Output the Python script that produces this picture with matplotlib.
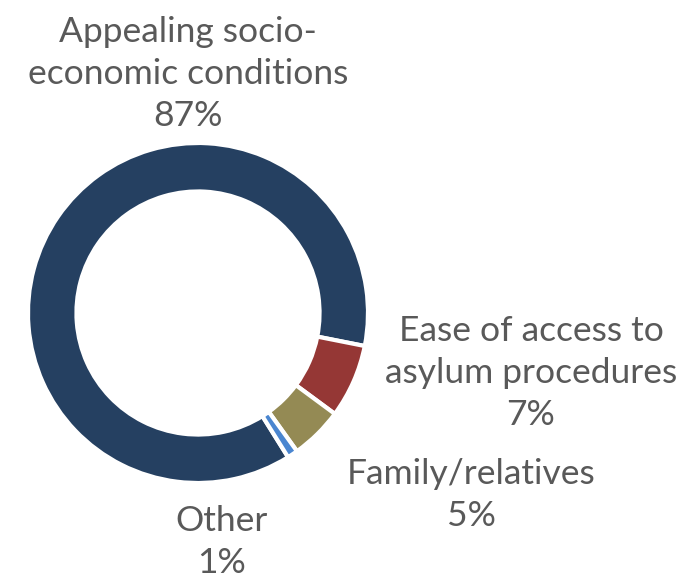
import matplotlib
matplotlib.use("Agg")
import matplotlib.pyplot as plt

# Data
labels = ["Appealing socio-\neconomic conditions", "Ease of access to\nasylum procedures",
          "Family/relatives", "Other"]
shares = [87, 7, 5, 1]
colors = ["#254061", "#953735", "#948A54", "#4A86D0"]

W, H = 694, 581
fig = plt.figure(figsize=(W / 100, H / 100), dpi=100)

# donut: centre (198, 313) px, radius 170 px
cx, cy, r = 198, 313, 170
ax = fig.add_axes([(cx - r) / W, (H - cy - r) / H, 2 * r / W, 2 * r / H])
ax.pie(shares, colors=colors, startangle=-58, counterclock=False,
       wedgeprops=dict(width=0.285, edgecolor="white", linewidth=3))
ax.set_xlim(-1, 1)
ax.set_ylim(-1, 1)
ax.set_aspect("equal")

# labels (pixel positions, from top-left)
label_pos = [(188, 74), (531, 373), (471, 495), (222, 542)]
for lab, val, (x, y) in zip(labels, shares, label_pos):
    fig.text(x / W, 1 - y / H, f"{lab}\n{val}%", ha="center", va="center",
             fontsize=25.5, family="Lato", color="#595959", linespacing=1.4)

plt.savefig("out.png", dpi=100)
